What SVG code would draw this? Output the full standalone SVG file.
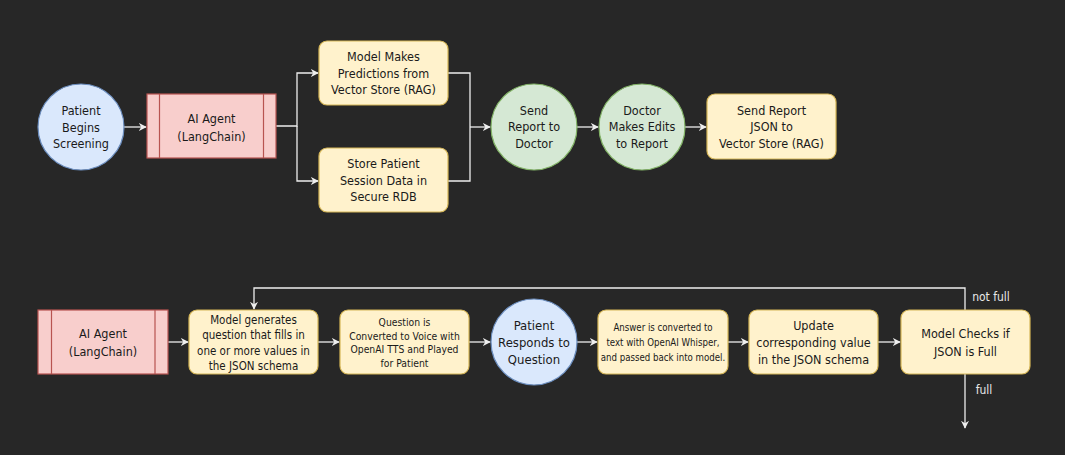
<svg xmlns="http://www.w3.org/2000/svg" width="1065" height="455" viewBox="0 0 1065 455">
<style>
.bg{fill:#272727}
.blue{fill:#dae8fc;stroke:#6c8ebf;stroke-width:1.2}
.pink{fill:#f8cecc;stroke:#b85450;stroke-width:1.2}
.yel{fill:#fff2cc;stroke:#d6b656;stroke-width:1.2}
.grn{fill:#d5e8d4;stroke:#82b366;stroke-width:1.2}
.inner{stroke:#b85450;stroke-width:1.2;fill:none}
text{font-family:"DejaVu Sans Condensed","DejaVu Sans","Liberation Sans",sans-serif;fill:#1a1a1a;text-anchor:middle}
.f125{font-size:12.5px}
.f13{font-size:13px}
.f115{font-size:11.5px}
.f103{font-size:10.3px}
.f95{font-size:9.6px}
.lbl{font-size:12px;fill:#e8e8e8}
.con path{fill:none;stroke:#eeeeee;stroke-width:1.3}
</style>
<defs>
<marker id="arr" viewBox="0 0 10 10" refX="9" refY="5" markerWidth="8" markerHeight="8" markerUnits="userSpaceOnUse" orient="auto">
<path d="M0,0 L10,5 L0,10 L3,5 Z" fill="#eeeeee" stroke="none"/>
</marker>
</defs>
<rect class="bg" x="0" y="0" width="1065" height="455"/>

<g class="con">
<path d="M124 127 H146" marker-end="url(#arr)"/>
<path d="M276 126 H297 V73 H318" marker-end="url(#arr)"/>
<path d="M297 126 V181 H318" marker-end="url(#arr)"/>
<path d="M448 73 H470 V181 H448"/>
<path d="M470 127 H490" marker-end="url(#arr)"/>
<path d="M577 127 H598" marker-end="url(#arr)"/>
<path d="M685 127 H706" marker-end="url(#arr)"/>
<path d="M168 342 H188" marker-end="url(#arr)"/>
<path d="M318 342 H339" marker-end="url(#arr)"/>
<path d="M469 342 H490" marker-end="url(#arr)"/>
<path d="M577 342 H597" marker-end="url(#arr)"/>
<path d="M728 342 H748" marker-end="url(#arr)"/>
<path d="M878 342 H900" marker-end="url(#arr)"/>
<path d="M965 310 V288 H254 V309" marker-end="url(#arr)"/>
<path d="M965 374 V428" marker-end="url(#arr)"/>
<text class="lbl" x="991" y="301">not full</text>
<text class="lbl" x="984" y="394">full</text>
</g>

<g id="patient-begins">
<circle class="blue" cx="81" cy="127" r="43"/>
<text class="f125" x="81" y="114.5">Patient</text>
<text class="f125" x="81" y="131.5">Begins</text>
<text class="f125" x="81" y="148">Screening</text>
</g>

<g id="ai-agent-top">
<rect class="pink" x="147" y="94" width="129" height="64"/>
<path class="inner" d="M159.5 94 V158 M263.5 94 V158"/>
<text class="f125" x="211.5" y="122.8">AI Agent</text>
<text class="f125" x="211.5" y="140.5">(LangChain)</text>
</g>

<g id="model-predictions">
<rect class="yel" x="319" y="41" width="129" height="64" rx="8"/>
<text class="f125" x="383.5" y="60.8">Model Makes</text>
<text class="f125" x="383.5" y="77.6">Predictions from</text>
<text class="f125" x="383.5" y="94.3">Vector Store (RAG)</text>
</g>

<g id="store-session">
<rect class="yel" x="319" y="148" width="129" height="64" rx="8"/>
<text class="f125" x="383.5" y="168">Store Patient</text>
<text class="f125" x="383.5" y="184.7">Session Data in</text>
<text class="f125" x="383.5" y="201.3">Secure RDB</text>
</g>

<g id="send-report">
<circle class="grn" cx="534" cy="127" r="43"/>
<text class="f125" x="534" y="114.5">Send</text>
<text class="f125" x="534" y="131.3">Report to</text>
<text class="f125" x="534" y="148">Doctor</text>
</g>

<g id="doctor-edits">
<circle class="grn" cx="642" cy="127" r="43"/>
<text class="f125" x="642" y="114.5">Doctor</text>
<text class="f125" x="642" y="131.3">Makes Edits</text>
<text class="f125" x="642" y="148">to Report</text>
</g>

<g id="send-json">
<rect class="yel" x="707" y="94" width="129" height="65" rx="8"/>
<text class="f125" x="771.5" y="114.5">Send Report</text>
<text class="f125" x="771.5" y="131.3">JSON to</text>
<text class="f125" x="771.5" y="148">Vector Store (RAG)</text>
</g>

<g id="ai-agent-bottom">
<rect class="pink" x="38" y="310" width="130" height="64"/>
<path class="inner" d="M51.5 310 V374 M155 310 V374"/>
<text class="f125" x="103" y="337.8">AI Agent</text>
<text class="f125" x="103" y="356">(LangChain)</text>
</g>

<g id="model-generates">
<rect class="yel" x="189" y="310" width="129" height="64" rx="8"/>
<text class="f115" x="253.5" y="323.5">Model generates</text>
<text class="f115" x="253.5" y="339.1">question that fills in</text>
<text class="f115" x="253.5" y="354.7">one or more values in</text>
<text class="f115" x="253.5" y="370.3">the JSON schema</text>
</g>

<g id="question-voice">
<rect class="yel" x="340" y="310" width="129" height="64" rx="8"/>
<text class="f103" x="404.5" y="326.4">Question is</text>
<text class="f103" x="404.5" y="339.9">Converted to Voice with</text>
<text class="f103" x="404.5" y="353.4">OpenAI TTS and Played</text>
<text class="f103" x="404.5" y="366.9">for Patient</text>
</g>

<g id="patient-responds">
<circle class="blue" cx="534" cy="342" r="43"/>
<text class="f13" x="534" y="329.7">Patient</text>
<text class="f13" x="534" y="346.7">Responds to</text>
<text class="f13" x="534" y="363.7">Question</text>
</g>

<g id="answer-converted">
<rect class="yel" x="598" y="310" width="130" height="64" rx="8"/>
<text class="f95" x="663" y="331">Answer is converted to</text>
<text class="f95" x="663" y="346">text with OpenAI Whisper,</text>
<text class="f95" x="663" y="361">and passed back into model.</text>
</g>

<g id="update-value">
<rect class="yel" x="749" y="310" width="129" height="64" rx="8"/>
<text class="f125" x="813.5" y="329.5">Update</text>
<text class="f125" x="813.5" y="346.8">corresponding value</text>
<text class="f125" x="813.5" y="363.5">in the JSON schema</text>
</g>

<g id="model-checks">
<rect class="yel" x="901" y="310" width="129" height="64" rx="8"/>
<text class="f125" x="965.5" y="338">Model Checks if</text>
<text class="f125" x="965.5" y="356">JSON is Full</text>
</g>
</svg>
